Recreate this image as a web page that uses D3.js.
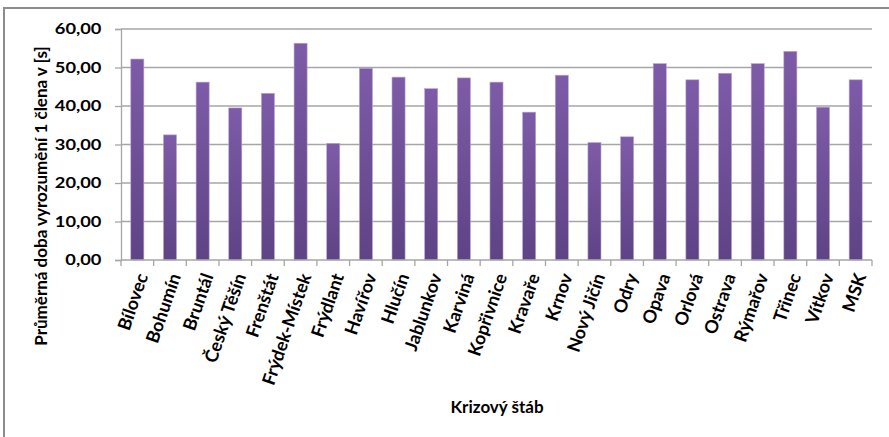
<!DOCTYPE html>
<html>
<head>
<meta charset="utf-8">
<script src="https://cdn.jsdelivr.net/npm/d3@7"></script>
<style>
  body { margin: 0; background: #fff; }
  svg { display: block; font-family: Lato, "Open Sans", sans-serif; }
</style>
</head>
<body>
<svg id="chart" width="889" height="437"></svg>
<script>
// krizove staby and average notification time per member [s]
var categories = ["Bílovec", "Bohumín", "Bruntál", "Český Těšín", "Frenštát", "Frýdek-Místek",
    "Frýdlant", "Havířov", "Hlučín", "Jablunkov", "Karviná", "Kopřivnice", "Kravaře", "Krnov",
    "Nový Jičín", "Odry", "Opava", "Orlová", "Ostrava", "Rýmařov", "Třinec", "Vítkov", "MSK"];
var values = [52.2, 32.5, 46.2, 39.5, 43.3, 56.3, 30.3, 49.8, 47.5, 44.5, 47.3, 46.2,
    38.4, 48.0, 30.5, 32.0, 51.0, 46.8, 48.5, 51.0, 54.2, 39.7, 46.8];
var yTicks = [0, 10, 20, 30, 40, 50, 60];
var yTitle = "Průměrná doba vyrozumění 1 člena v [s]";
var xTitle = "Krizový štáb";

var svg = d3.select("#chart");
var margin = {top: 29, left: 121, right: 17, bottom: 177};
var width = 889 - margin.left - margin.right,
    height = 437 - margin.top - margin.bottom;

// chart frame (only top and left edges are visible in the crop)
svg.append("rect")
    .attr("x", 4).attr("y", 8)
    .attr("width", 900).attr("height", 450)
    .attr("fill", "none")
    .attr("stroke", "#8c8c8c")
    .attr("stroke-width", 2);

var defs = svg.append("defs");
var grad = defs.append("linearGradient")
    .attr("id", "barGrad")
    .attr("x1", 0).attr("y1", 0).attr("x2", 0).attr("y2", 1);
grad.append("stop").attr("offset", "0%").attr("stop-color", "#7e5ba8");
grad.append("stop").attr("offset", "100%").attr("stop-color", "#5e4385");

var g = svg.append("g").attr("transform", "translate(" + margin.left + "," + margin.top + ")");

var x = d3.scaleBand().domain(categories).range([0, width]).paddingInner(0.6).paddingOuter(0.3);
var y = d3.scaleLinear().domain([0, 60]).range([height, 0]);

// gridlines
g.append("g")
    .selectAll("line")
    .data(yTicks.filter(function(d) { return d > 0; }))
    .join("line")
    .attr("x1", 0).attr("x2", width)
    .attr("y1", function(d) { return y(d); })
    .attr("y2", function(d) { return y(d); })
    .attr("stroke", "#a6a6a6")
    .attr("stroke-width", 1.3);

// y axis
var yAxis = g.append("g")
    .call(d3.axisLeft(y).tickValues(yTicks).tickSize(6).tickPadding(10)
        .tickFormat(function(d) { return d3.format(".2f")(d).replace(".", ","); }));
yAxis.select(".domain").attr("stroke", "#a6a6a6").attr("stroke-width", 1.3);
yAxis.selectAll(".tick line").attr("stroke", "#a6a6a6").attr("stroke-width", 1.3);
yAxis.selectAll("text")
    .attr("fill", "#000")
    .attr("transform", "scale(1.22,1)")
    .style("font-size", "15px")
    .style("font-weight", "bold")
    .style("font-family", "Lato, sans-serif");

// bars
g.append("g")
    .selectAll("rect")
    .data(values)
    .join("rect")
    .attr("x", function(d, i) { return x(categories[i]); })
    .attr("y", function(d) { return y(d); })
    .attr("width", x.bandwidth())
    .attr("height", function(d) { return height - y(d); })
    .attr("fill", "url(#barGrad)")
    .attr("stroke", "#b8a6d0")
    .attr("stroke-width", 0.6);

// x axis baseline and tick marks at category boundaries
g.append("line")
    .attr("x1", 0).attr("x2", width)
    .attr("y1", height).attr("y2", height)
    .attr("stroke", "#a6a6a6").attr("stroke-width", 1.3);
g.append("g")
    .selectAll("line")
    .data(d3.range(categories.length + 1))
    .join("line")
    .attr("x1", function(i) { return i * width / categories.length; })
    .attr("x2", function(i) { return i * width / categories.length; })
    .attr("y1", height).attr("y2", height + 6)
    .attr("stroke", "#a6a6a6").attr("stroke-width", 1.3);

// category labels, rotated
g.append("g")
    .selectAll("text")
    .data(categories)
    .join("text")
    .attr("transform", function(d) {
        var cx = x(d) + x.bandwidth() / 2 + 5;
        return "translate(" + cx + "," + (height + 14) + ") rotate(-71)";
    })
    .attr("text-anchor", "end")
    .attr("dy", "0.35em")
    .style("font-size", "18px")
    .style("font-weight", "bold")
    .text(function(d) { return d; });

// axis titles
svg.append("text")
    .attr("transform", "translate(47,196) rotate(-90)")
    .attr("text-anchor", "middle")
    .style("font-size", "17px")
    .style("font-weight", "bold")
    .text(yTitle);

svg.append("text")
    .attr("x", 497).attr("y", 413)
    .attr("text-anchor", "middle")
    .style("font-size", "17px")
    .style("font-weight", "bold")
    .text(xTitle);
</script>
</body>
</html>
